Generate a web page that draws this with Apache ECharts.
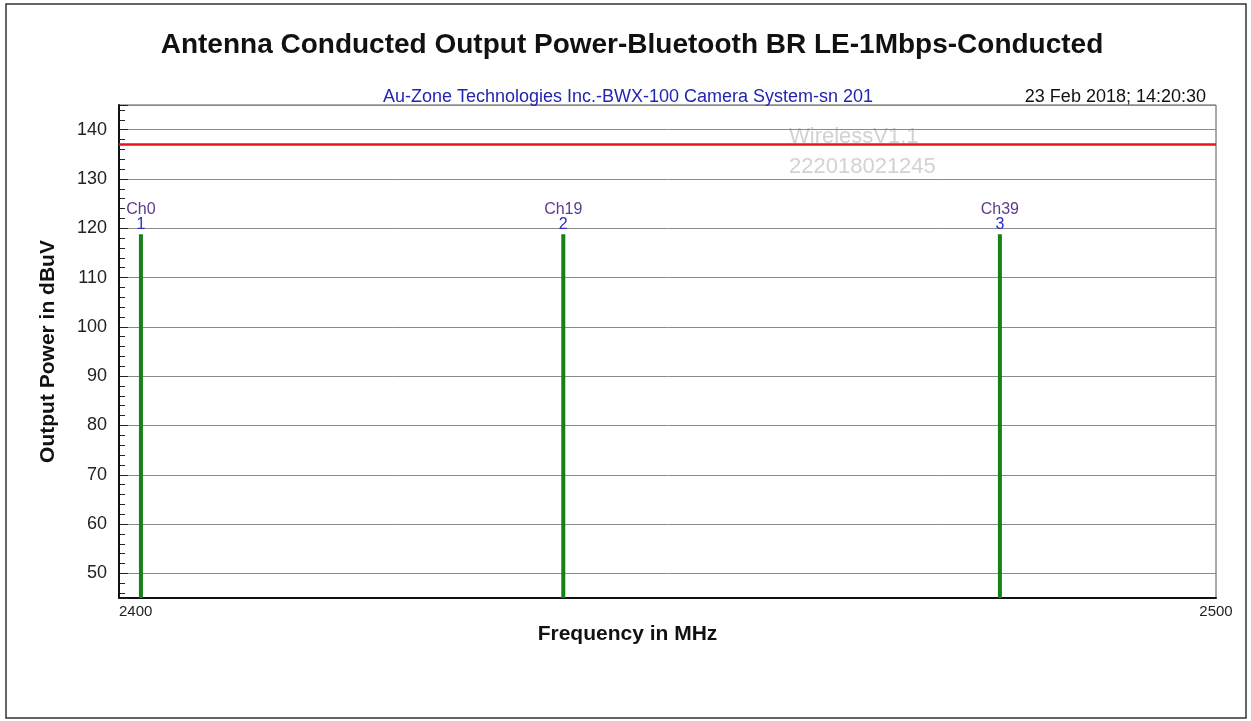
<!DOCTYPE html>
<html>
<head>
<meta charset="utf-8">
<script src="https://cdn.jsdelivr.net/npm/echarts@6/dist/echarts.min.js"></script>
<style>
  html, body { margin: 0; padding: 0; background: #fff; }
  #chart { width: 1251px; height: 721px; }
</style>
</head>
<body>
<div id="chart"></div>
<script>
// channel data
const channelNames = ['Ch0', 'Ch19', 'Ch39']
const channelIndex = ['1', '2', '3']
const channelFreqs = [2402, 2440.5, 2480.3]
const channelPower = [118.8, 118.8, 118.8]
// limit line
const limitFreqs = [2400, 2500]
const limitLevel = [137, 137]

const font = "'Liberation Sans', Arial, sans-serif"

const chart = echarts.init(document.getElementById('chart'))

const option = {
  backgroundColor: '#fff',
  animation: false,
  textStyle: { fontFamily: font },
  title: [
    {
      text: 'Antenna Conducted Output Power-Bluetooth BR LE-1Mbps-Conducted',
      left: 627,
      top: 26,
      textAlign: 'center',
      textStyle: { fontSize: 28, fontWeight: 'bold', color: '#111', fontFamily: font },
    },
    {
      text: 'Au-Zone Technologies Inc.-BWX-100 Camera System-sn 201',
      left: 623,
      top: 83,
      textAlign: 'center',
      textStyle: { fontSize: 18, fontWeight: 'normal', color: '#2323b4', fontFamily: font },
    },
    {
      text: '23 Feb 2018; 14:20:30',
      right: 40,
      top: 83,
      textStyle: { fontSize: 18, fontWeight: 'normal', color: '#111', fontFamily: font },
    },
  ],
  graphic: [
    {
      type: 'rect',
      shape: { x: 6, y: 4, width: 1240, height: 714 },
      style: { fill: 'none', stroke: '#333', lineWidth: 1.5 },
      silent: true,
    },
    {
      type: 'text',
      left: 789,
      top: 122,
      z: 0,
      style: {
        text: 'WirelessV1.1\n222018021245',
        fill: '#d2d2d2',
        font: '22px ' + font,
        lineHeight: 30,
      },
    },
  ],
  grid: {
    left: 119,
    right: 35,
    top: 105,
    bottom: 123,
    show: true,
    borderColor: '#555',
    borderWidth: 1,
    containLabel: false,
  },
  xAxis: {
    type: 'value',
    min: 2400,
    max: 2500,
    interval: 100,
    name: 'Frequency in MHz',
    nameLocation: 'middle',
    nameGap: 21,
    nameTextStyle: {
      fontSize: 21,
      fontWeight: 'bold',
      color: '#111',
      fontFamily: font,
      padding: [0, 80, 0, 0],
    },
    axisLine: { show: true, lineStyle: { color: '#111', width: 2 } },
    axisTick: { show: false },
    splitLine: { show: false },
    axisLabel: {
      color: '#222',
      fontSize: 15,
      margin: 6,
      alignMinLabel: 'left',
      alignMaxLabel: 'center',
      formatter: (v) => String(v),
    },
  },
  yAxis: {
    type: 'value',
    min: 45,
    max: 145,
    splitNumber: 10,
    minInterval: 10,
    maxInterval: 10,
    name: 'Output Power in dBuV',
    nameLocation: 'middle',
    nameGap: 60,
    nameTextStyle: { fontSize: 21, fontWeight: 'bold', color: '#111', fontFamily: font },
    axisLine: { show: true, lineStyle: { color: '#111', width: 2 } },
    axisTick: { show: true, inside: true, length: 9, lineStyle: { color: '#222' } },
    minorTick: { show: true, splitNumber: 5, length: 6, lineStyle: { color: '#222' } },
    splitLine: { show: true, lineStyle: { color: '#8a8a8a', width: 1 } },
    axisLabel: {
      color: '#222',
      fontSize: 18,
      margin: 12,
      showMinLabel: false,
      showMaxLabel: false,
    },
  },
  series: [
    {
      type: 'line',
      data: limitFreqs.map((f, i) => [f, limitLevel[i]]),
      symbol: 'none',
      lineStyle: { color: '#e8141b', width: 2.5 },
      z: 3,
    },
    {
      type: 'bar',
      data: channelFreqs.map((f, i) => [f, channelPower[i]]),
      barWidth: 4,
      itemStyle: { color: '#168216' },
      z: 4,
      label: {
        show: true,
        position: 'top',
        distance: 2,
        formatter: (p) => '{a|' + channelNames[p.dataIndex] + '}\n{b|' + channelIndex[p.dataIndex] + '}',
        rich: {
          a: { color: '#5b3a8e', fontSize: 16, lineHeight: 16, fontFamily: font },
          b: { color: '#2b2bc8', fontSize: 16, lineHeight: 15, fontFamily: font },
        },
      },
    },
  ],
}

chart.setOption(option)
</script>
</body>
</html>
